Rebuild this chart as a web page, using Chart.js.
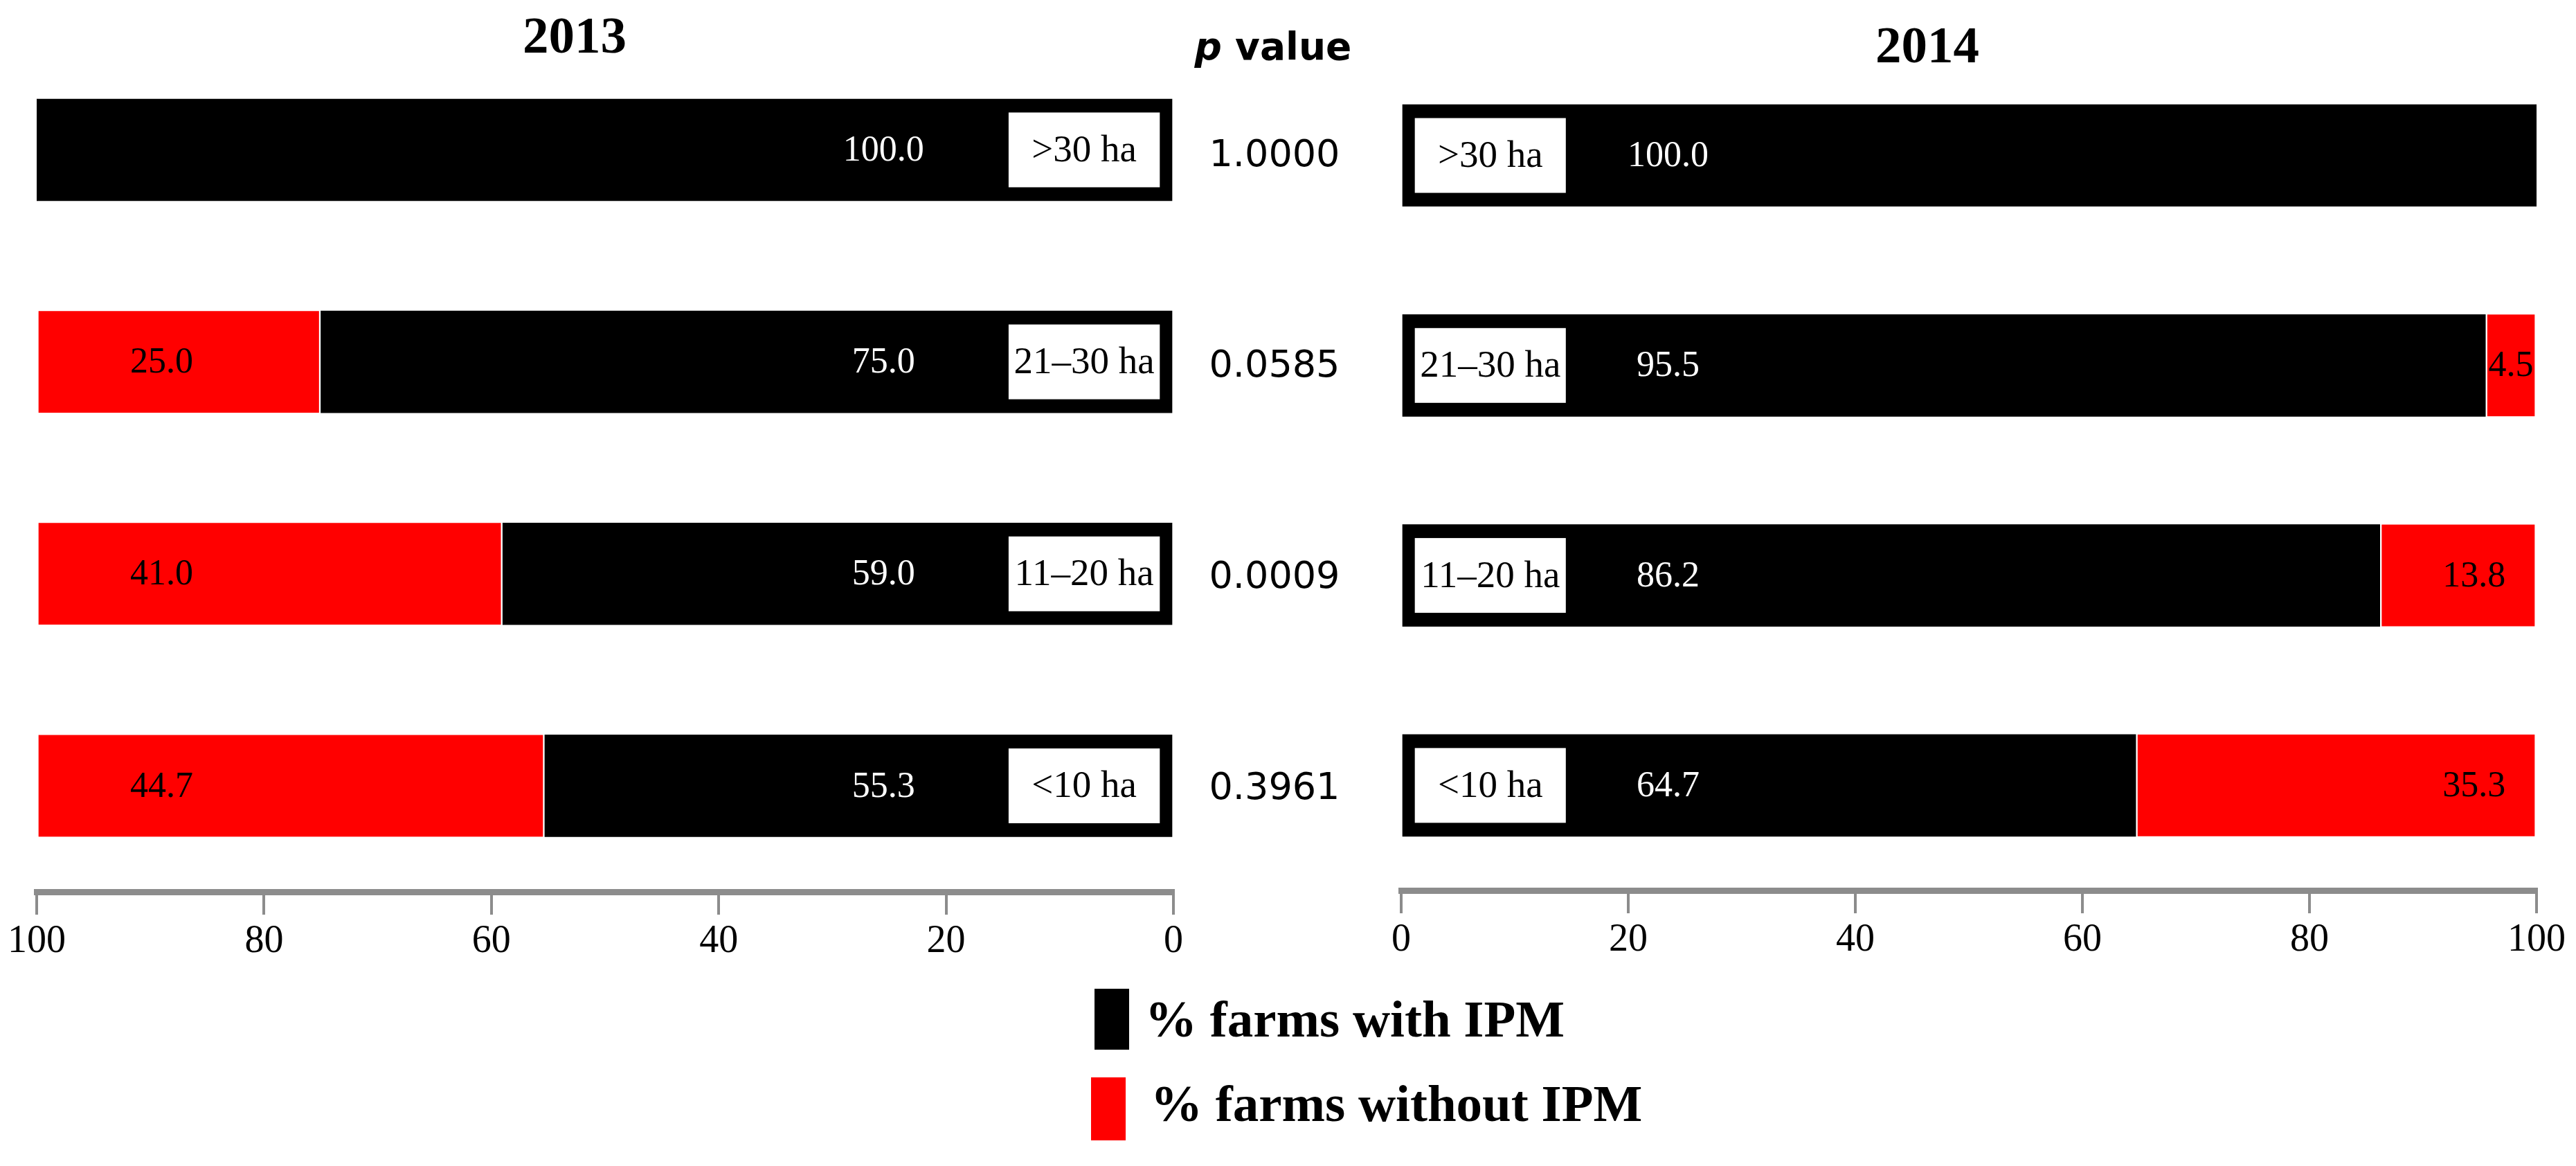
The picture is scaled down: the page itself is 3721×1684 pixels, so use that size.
<!DOCTYPE html>
<html>
<head>
    <title>Farms with IPM by farm size</title>
    <script src="https://cdn.jsdelivr.net/npm/chart.js"></script>
    <style>
        body { margin: 0; background: #fff; }
        #page { position: relative; width: 3721px; height: 1684px; overflow: hidden; background: #fff; }
        canvas { position: absolute; top: 0; }
        .txt { position: absolute; white-space: nowrap; line-height: 1; color: #000; }
        .serif { font-family: "Liberation Serif", "Times New Roman", serif; }
        .sans { font-family: "DejaVu Sans", Verdana, sans-serif; }
        .swatch { position: absolute; width: 50px; }
    </style>
</head>
<body>
<div id="page">
    <canvas id="chart2013" width="1740" height="1684" style="left:0px"></canvas>
    <canvas id="chart2014" width="1741" height="1684" style="left:1980px"></canvas>

    <div class="txt serif" style="font-size:75px;font-weight:bold;left:630px;width:400px;text-align:center;top:13px">2013</div>
    <div class="txt serif" style="font-size:75px;font-weight:bold;left:2584px;width:400px;text-align:center;top:27px">2014</div>
    <div class="txt sans" style="font-size:55px;font-weight:bold;left:1639px;width:400px;text-align:center;top:40px"><i>p</i> value</div>
    <div id="pvals"></div>
    <div id="legend"></div>
</div>

<script>
    // data
    const sizeClasses = ['>30 ha', '21–30 ha', '11–20 ha', '<10 ha'];
    const with2013 = [100.0, 75.0, 59.0, 55.3];
    const without2013 = [0, 25.0, 41.0, 44.7];
    const with2014 = [100.0, 95.5, 86.2, 64.7];
    const without2014 = [0, 4.5, 13.8, 35.3];
    const pValues = ['1.0000', '0.0585', '0.0009', '0.3961'];
    const axisTicks = [0, 20, 40, 60, 80, 100];
    const seriesNames = ['% farms with IPM', '% farms without IPM'];
    const seriesColors = ['#000000', '#ff0000'];

    // white size-class boxes and the value labels inside the bars
    const barLabels = {
        id: 'barLabels',
        afterDatasetsDraw(chart, args, opts) {
            const ctx = chart.ctx, area = chart.chartArea;
            const x = chart.scales.x, y = chart.scales.y;
            const withData = chart.data.datasets[0].data;
            const withoutData = chart.data.datasets[1].data;
            ctx.save();
            ctx.beginPath();
            ctx.rect(area.left, area.top, area.width, area.height);
            ctx.clip();
            ctx.textAlign = 'center';
            ctx.textBaseline = 'middle';
            sizeClasses.forEach((name, i) => {
                const yc = y.getPixelForValue(i);
                const x1 = x.getPixelForValue(opts.boxFrom);
                const x2 = x.getPixelForValue(opts.boxTo);
                ctx.fillStyle = '#fff';
                ctx.fillRect(Math.min(x1, x2), yc - 54, Math.abs(x2 - x1), 108);
                ctx.fillStyle = '#000';
                ctx.font = '55px "Liberation Serif"';
                ctx.fillText(name, (x1 + x2) / 2, yc + 2);

                ctx.font = '52px "Liberation Serif"';
                ctx.fillStyle = '#fff';
                ctx.fillText(withData[i].toFixed(1), x.getPixelForValue(opts.withAt), yc + 2);
                if (withoutData[i] > 0) {
                    const at = Math.max(opts.withoutAt, withData[i] + withoutData[i] / 2);
                    ctx.fillStyle = '#000';
                    ctx.fillText(withoutData[i].toFixed(1), x.getPixelForValue(at), yc + 2);
                }
            });
            ctx.restore();
        }
    };

    function makeChart(id, withData, withoutData, reverse, padding, axisHeight, labelOpts) {
        return new Chart(document.getElementById(id), {
            type: 'bar',
            data: {
                labels: sizeClasses,
                datasets: [{
                    label: seriesNames[0],
                    data: withData,
                    backgroundColor: seriesColors[0],
                    borderWidth: 0,
                    barThickness: 147
                }, {
                    label: seriesNames[1],
                    data: withoutData,
                    backgroundColor: seriesColors[1],
                    borderColor: '#ffffff',
                    borderWidth: { left: 3, right: 3, top: 0, bottom: 0 },
                    borderSkipped: false,
                    barThickness: 147
                }]
            },
            options: {
                indexAxis: 'y',
                responsive: false,
                devicePixelRatio: 1,
                animation: false,
                layout: { padding: padding },
                plugins: {
                    legend: { display: false },
                    tooltip: { enabled: false },
                    barLabels: labelOpts
                },
                scales: {
                    x: {
                        type: 'linear',
                        min: 0,
                        max: 100,
                        reverse: reverse,
                        stacked: true,
                        afterBuildTicks: s => { s.ticks = axisTicks.map(v => ({ value: v })); },
                        afterFit: s => { s.height = axisHeight; s.paddingLeft = 0; s.paddingRight = 0; },
                        ticks: {
                            color: '#000',
                            padding: 6,
                            maxRotation: 0,
                            autoSkip: false,
                            font: { family: 'Liberation Serif', size: 56 }
                        },
                        grid: {
                            display: true,
                            drawOnChartArea: false,
                            drawTicks: true,
                            tickLength: 33,
                            color: '#8c8c8c',
                            lineWidth: 4
                        },
                        border: { display: true, color: '#8c8c8c', width: 9 }
                    },
                    y: {
                        stacked: true,
                        display: false
                    }
                }
            },
            plugins: [barLabels]
        });
    }

    const left = makeChart('chart2013', with2013, without2013, true,
        { left: 53, right: 45, top: 63.4, bottom: 0 }, 1684 - 1288,
        { boxFrom: 1.2, boxTo: 14.5, withAt: 25.5, withoutAt: 89 });
    const right = makeChart('chart2014', with2014, without2014, false,
        { left: 44, right: 57, top: 72.9, bottom: 0 }, 1684 - 1286,
        { boxFrom: 1.2, boxTo: 14.5, withAt: 23.5, withoutAt: 94.5 });

    // p values sit between the two panels, level with each row
    const pv = document.getElementById('pvals');
    pValues.forEach((p, i) => {
        const yc = (left.scales.y.getPixelForValue(i) + right.scales.y.getPixelForValue(i)) / 2;
        const d = document.createElement('div');
        d.className = 'txt sans';
        d.style.cssText = 'font-size:54px;left:1641px;width:400px;text-align:center;top:' + (yc - 26) + 'px';
        d.textContent = p;
        pv.appendChild(d);
    });

    // legend from the series arrays
    const lg = document.getElementById('legend');
    const legendRows = [
        { swLeft: 1581, swTop: 1428, swH: 88, txtLeft: 1654, txtTop: 1434 },
        { swLeft: 1576, swTop: 1556, swH: 91, txtLeft: 1662, txtTop: 1556 }
    ];
    seriesNames.forEach((name, i) => {
        const r = legendRows[i];
        const sw = document.createElement('div');
        sw.className = 'swatch';
        sw.style.cssText = 'left:' + r.swLeft + 'px;top:' + r.swTop + 'px;height:' + r.swH + 'px;background:' + seriesColors[i];
        lg.appendChild(sw);
        const t = document.createElement('div');
        t.className = 'txt serif';
        t.style.cssText = 'font-size:75px;font-weight:bold;left:' + r.txtLeft + 'px;top:' + r.txtTop + 'px';
        t.textContent = name;
        lg.appendChild(t);
    });
</script>
</body>
</html>
